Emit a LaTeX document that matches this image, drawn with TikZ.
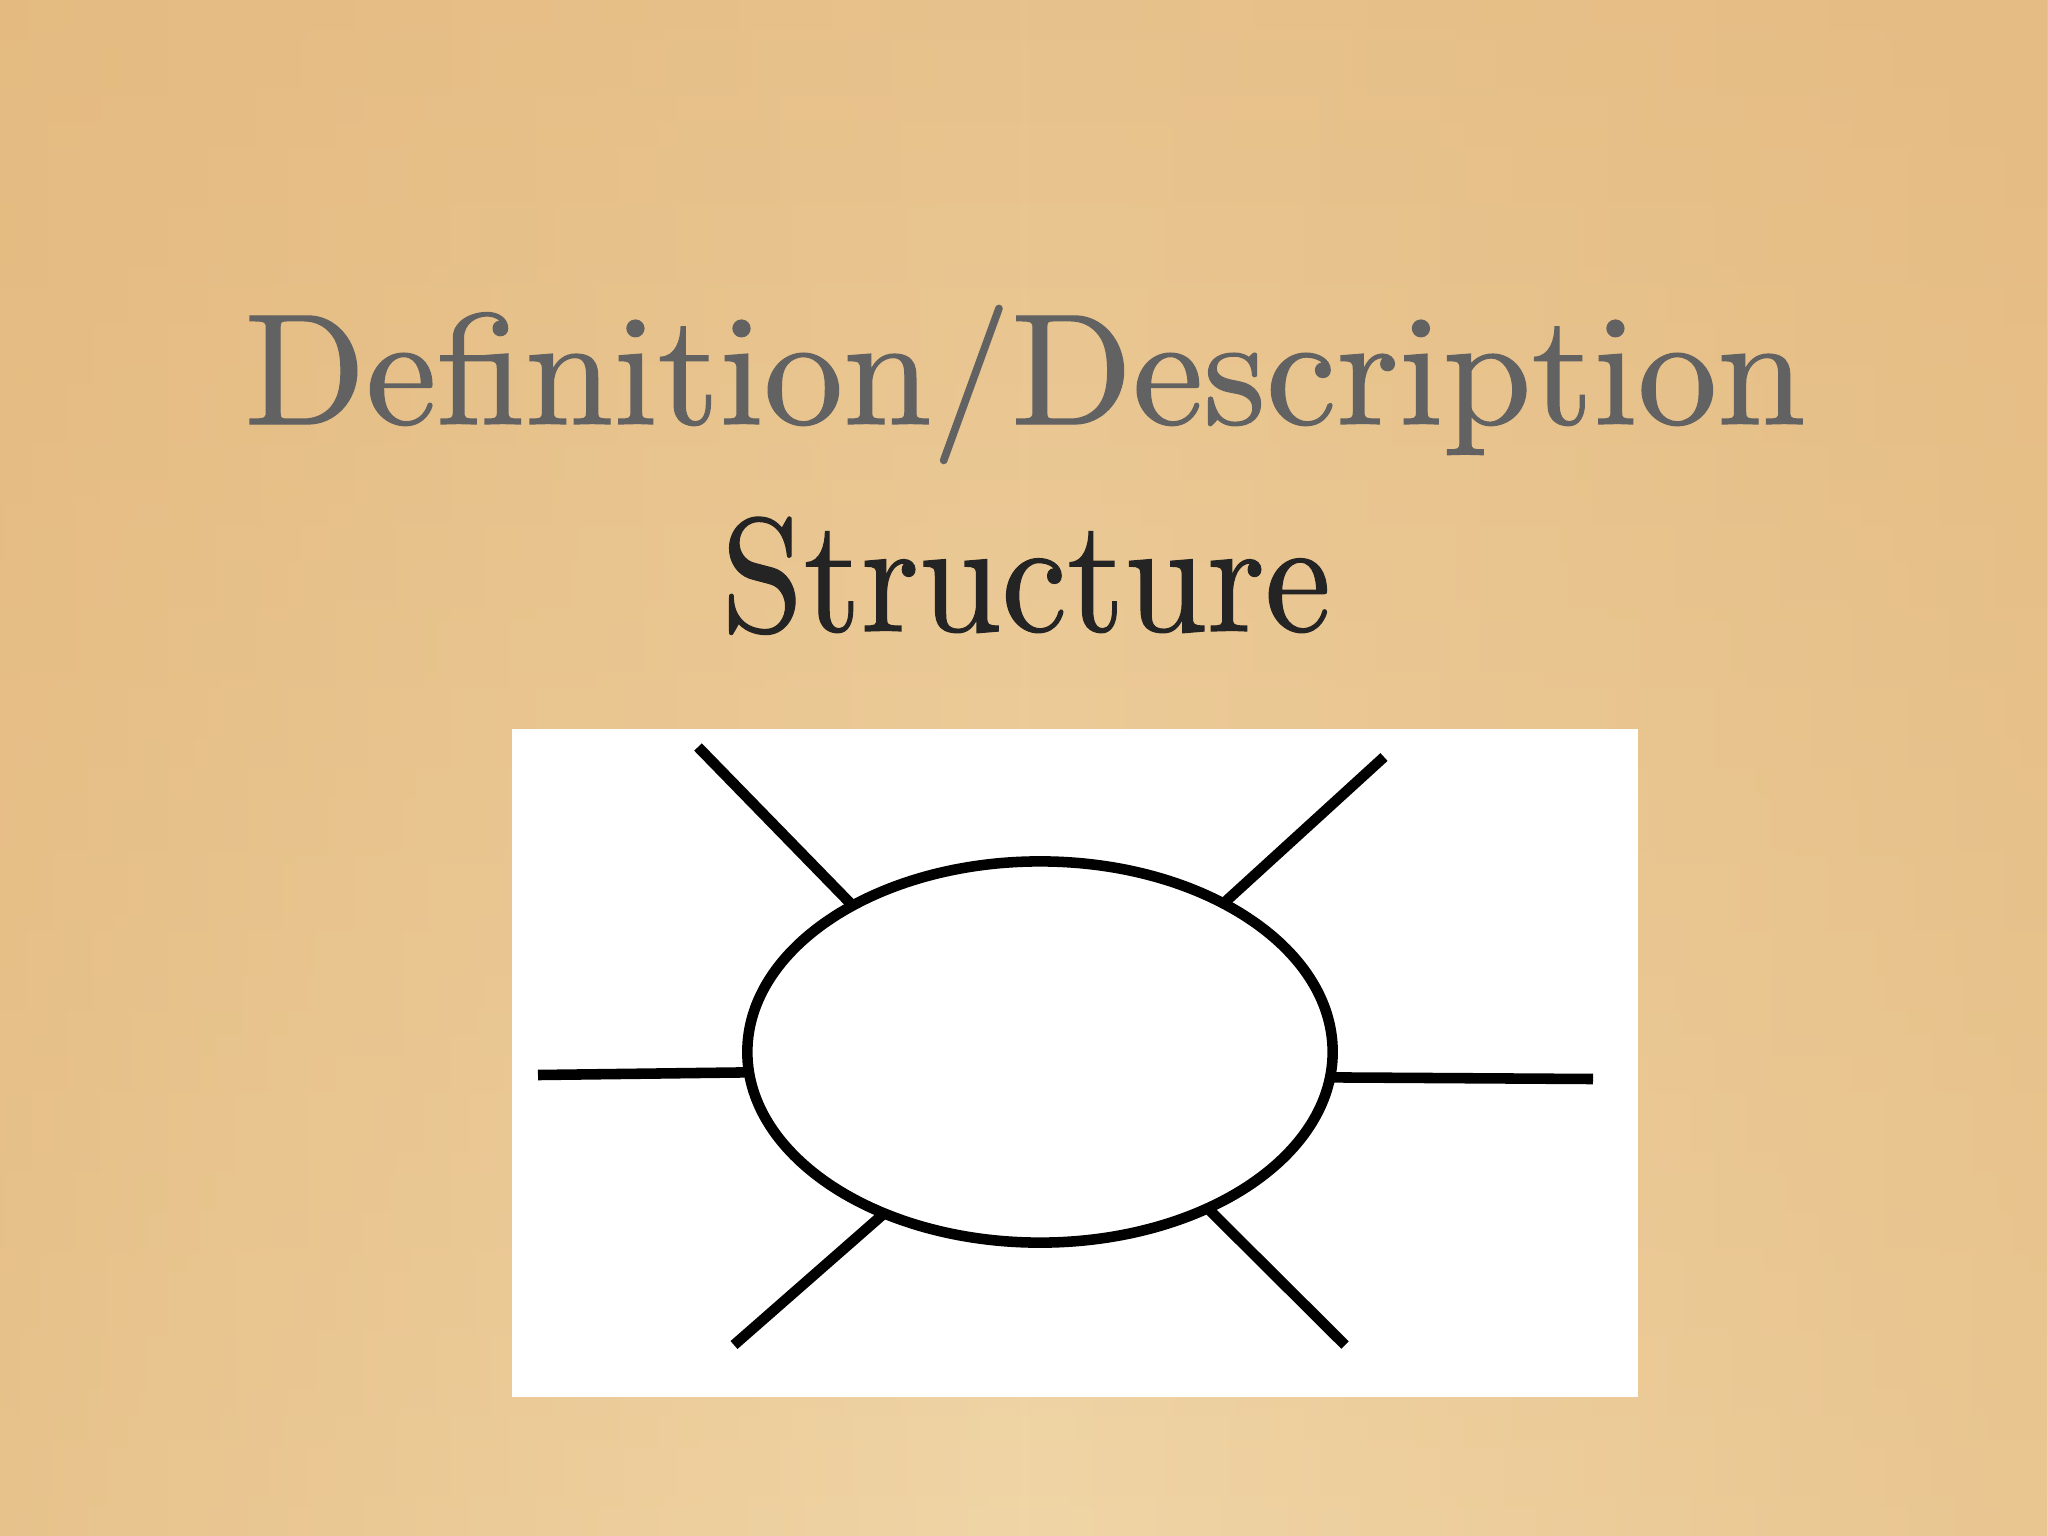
\documentclass[tikz,border=0pt]{standalone}
\usepackage{fontspec}
\usetikzlibrary{shapes.geometric,fadings}
\newfontfamily\slidefont{lmroman10-regular.otf}[FakeBold=0.8]
\definecolor{wtop}{RGB}{232,194,140}
\definecolor{wmid}{RGB}{239,208,160}
\definecolor{wbot}{RGB}{240,213,166}
\definecolor{wside}{RGB}{226,182,122}
\definecolor{titlegray}{RGB}{98,98,98}
\definecolor{subdark}{RGB}{36,36,36}
\tikzfading[name=sidefade, left color=transparent!40, right color=transparent!50, middle color=transparent!100]
\tikzset{
  ray/.style={line width=3pt, black},
  hubstyle/.style={draw=black, line width=3pt, ellipse, fill=white, minimum width=5.85cm, minimum height=3.81cm, inner sep=0pt, outer sep=0pt},
  titletext/.style={anchor=base, text=titlegray, font=\slidefont\fontsize{45}{50}\selectfont, inner sep=0pt},
  subtext/.style={anchor=base, text=subdark, font=\slidefont\fontsize{46}{52}\selectfont, inner sep=0pt}
}
\begin{document}
\begin{tikzpicture}[x=0.01cm,y=-0.01cm]
\useasboundingbox (0,0) rectangle (2048,1536);
% background
\shade[top color=wtop, middle color=wmid, bottom color=wbot] (0,0) rectangle (2048,1536);
\fill[wside, path fading=sidefade] (0,0) rectangle (2048,1536);
% titles
\node[titletext] (title) at (1025,424) {\scalebox{1.005}[1]{Definition/Description}};
\node[subtext] (sub) at (1026,631) {\scalebox{0.915}[1]{Structure}};
% white panel
\fill[white] (512,729) rectangle (1638,1397);
% hub
\node[hubstyle] (hub) at (1040,1052) {};
\coordinate (tl) at (698,747);
\coordinate (tr) at (1384,757);
\coordinate (l) at (538,1075);
\coordinate (r) at (1593,1079);
\coordinate (bl) at (734,1345);
\coordinate (br) at (1345,1345);
\draw[ray] (tl) -- (hub.142);
\draw[ray] (tr) -- (hub.39);
\draw[ray] (l) -- (hub.184.5);
\draw[ray] (hub.355) -- (r);
\draw[ray] (bl) -- (hub.226);
\draw[ray] (br) -- (hub.317);
\end{tikzpicture}
\end{document}
